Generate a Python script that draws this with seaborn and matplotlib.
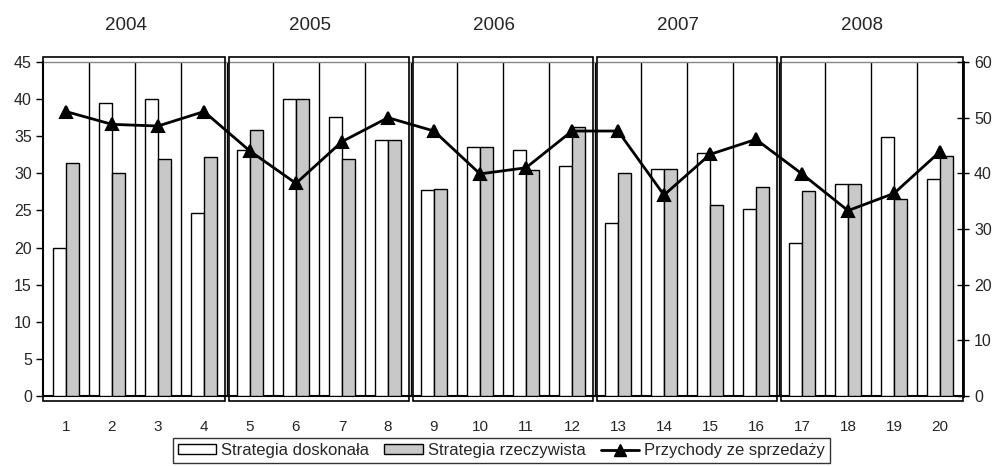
import numpy as np
import pandas as pd
import matplotlib
matplotlib.use("Agg")
import matplotlib.pyplot as plt
import matplotlib.transforms as mtransforms
from matplotlib.patches import Rectangle, Patch
from matplotlib.lines import Line2D
import seaborn as sns

# ---- data ----
kwartaly = [str(i) for i in range(1, 21)]
doskonala = [20.0, 39.5, 40.0, 24.6, 33.2, 40.0, 37.6, 34.5, 27.8, 33.6,
             33.1, 31.0, 23.3, 30.6, 32.8, 25.2, 20.6, 28.5, 34.9, 29.2]
rzeczywista = [31.4, 30.1, 31.9, 32.2, 35.9, 40.0, 31.9, 34.5, 27.9, 33.6,
               30.5, 36.2, 30.1, 30.6, 25.8, 28.1, 27.6, 28.5, 26.5, 32.3]
przychody = [51.1, 48.8, 48.5, 51.1, 44.0, 38.2, 45.7, 50.0, 47.6, 39.9,
             41.0, 47.6, 47.6, 36.1, 43.4, 46.1, 39.9, 33.3, 36.4, 43.9]
lata = ["2004", "2005", "2006", "2007", "2008"]
serie = ["Strategia doskonała", "Strategia rzeczywista", "Przychody ze sprzedaży"]

sns.set_style("white")
plt.rcParams["font.family"] = ["Liberation Sans", "DejaVu Sans"]

GRAY = "#c8c8c8"

df = pd.DataFrame({
    "kw": kwartaly * 2,
    "val": doskonala + rzeczywista,
    "seria": [serie[0]] * 20 + [serie[1]] * 20,
})

fig = plt.figure(figsize=(9.93, 4.66), dpi=100)
ax = fig.add_axes([43 / 993, 1 - 396 / 466, 920 / 993, 334 / 466])

sns.barplot(data=df, x="kw", y="val", hue="seria", order=kwartaly,
            hue_order=serie[:2], palette=["white", GRAY], width=0.56,
            edgecolor="black", linewidth=1.0, ax=ax, legend=False, zorder=3)

n = len(kwartaly)
ax.set_xlim(-0.5, n - 0.5)
ax.set_ylim(0, 45)
ax.set_yticks(np.arange(0, 46, 5))
ax.set_xlabel("")
ax.set_ylabel("")

# category separator lines
for b in np.arange(0.5, n - 0.5, 1.0):
    ax.axvline(b, color="black", lw=1.0, zorder=1)

ax.set_xticks(range(n))
ax.set_xticklabels(kwartaly)
ax.set_xticks(np.arange(-0.5, n, 1.0), minor=True)
ax.tick_params(axis="x", which="major", length=0, pad=17, labelsize=11)
ax.tick_params(axis="x", which="minor", length=7, width=1, color="black", direction="out")
ax.tick_params(axis="y", length=5, width=1, color="black", direction="out", labelsize=11.5, pad=3)

for s in ["left", "bottom"]:
    ax.spines[s].set_color("black")
    ax.spines[s].set_linewidth(1.5)
ax.spines["top"].set_color("#888888")
ax.spines["top"].set_linewidth(1.0)
ax.spines["right"].set_visible(False)

# twin axis with line
ax2 = ax.twinx()
sns.pointplot(x=kwartaly, y=przychody, order=kwartaly, color="black",
              markers="^", linestyles="-", markersize=9, linewidth=2.0,
              ax=ax2, zorder=5)
ax2.set_ylim(0, 60)
ax2.set_yticks(np.arange(0, 61, 10))
ax2.set_xlim(-0.5, n - 0.5)
ax2.tick_params(axis="y", length=8, width=1, color="black", direction="inout", labelsize=11.5, pad=4)
for s in ["top", "left", "bottom"]:
    ax2.spines[s].set_visible(False)
ax2.spines["right"].set_color("black")
ax2.spines["right"].set_linewidth(2.0)
ax2.set_xlabel("")
ax2.set_ylabel("")

# year boxes and labels
trans = mtransforms.blended_transform_factory(ax.transData, ax.transAxes)
for g, rok in enumerate(lata):
    x0 = -0.5 + 4 * g
    gap = 0.0 if g == 0 else 0.04
    rect = Rectangle((x0 + gap, -0.015), 4 - gap - (0.0 if g == len(lata) - 1 else 0.04), 1.03,
                     transform=trans, fill=False, edgecolor="black", lw=1.2,
                     clip_on=False, zorder=6)
    ax.add_patch(rect)
    ax.text(x0 + 2 - 0.2, 1.11, rok, transform=trans, ha="center", va="center",
            fontsize=13.5)

# legend
handles = [
    Patch(facecolor="white", edgecolor="black", lw=1.0),
    Patch(facecolor=GRAY, edgecolor="black", lw=1.0),
    Line2D([], [], color="black", lw=2, marker="^", markersize=8),
]
leg = fig.legend(handles, serie, loc="upper center", bbox_to_anchor=(0.505, 0.06),
                 ncol=3, frameon=True, fontsize=12, handlelength=2.3, handleheight=0.5,
                 handletextpad=0.3, columnspacing=0.9, borderpad=0.3, borderaxespad=0.0,
                 fancybox=False)
leg.get_frame().set_edgecolor("black")
leg.get_frame().set_linewidth(1.0)

fig.savefig("out.png", dpi=100)
